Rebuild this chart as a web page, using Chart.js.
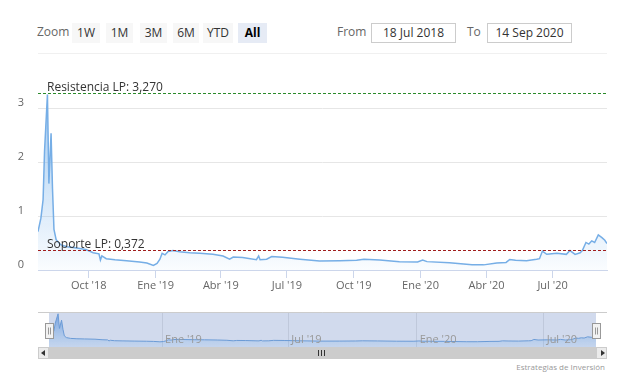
<!DOCTYPE html>
<html>
<head>
<meta charset="utf-8">
<script src="https://cdn.jsdelivr.net/npm/chart.js@4"></script>
<style>
  body { margin: 0; background: #fff; font-family: "Open Sans", sans-serif; }
  #wrap { position: relative; width: 630px; height: 387px; overflow: hidden; }
  .abs { position: absolute; }
  .txt { font-size: 12px; color: #666; line-height: 20px; }
  .btn { top: 23px; height: 20px; line-height: 20px; background: #f7f7f7; color: #333;
         font-size: 12px; text-align: center; }
  .btn.on { background: #e6ebf5; color: #000; font-weight: bold; }
  .box { top: 23px; width: 85px; border: 1px solid #cccccc; box-sizing: border-box;
         height: 20px; line-height: 18px; font-size: 12px; color: #333; text-align: center; }
  canvas { position: absolute; left: 0; }
</style>
</head>
<body>
<div id="wrap">
  <div class="abs txt" style="left:37px;top:22px;">Zoom</div>
  <div class="abs btn" style="left:72px;width:28px;">1W</div>
  <div class="abs btn" style="left:106px;width:27px;">1M</div>
  <div class="abs btn" style="left:140px;width:27px;">3M</div>
  <div class="abs btn" style="left:173px;width:26px;">6M</div>
  <div class="abs btn" style="left:203px;width:30px;">YTD</div>
  <div class="abs btn on" style="left:238px;width:29px;">All</div>
  <div class="abs txt" style="left:337px;top:22px;">From</div>
  <div class="abs box" style="left:371px;">18 Jul 2018</div>
  <div class="abs txt" style="left:467px;top:22px;">To</div>
  <div class="abs box" style="left:487px;">14 Sep 2020</div>
  <div class="abs" style="left:38px;top:53px;width:569px;height:1px;background:#f0f0f0;"></div>

  <canvas id="main" width="630" height="235" style="top:60px;"></canvas>
  <canvas id="nav" width="630" height="42" style="top:305px;"></canvas>

  <!-- scrollbar -->
  <div class="abs" style="left:38px;top:347px;width:11px;height:12px;background:#ebebeb;border:1px solid #cccccc;box-sizing:border-box;"></div>
  <div class="abs" style="left:41px;top:350px;width:0;height:0;border-top:3px solid transparent;border-bottom:3px solid transparent;border-right:4px solid #333;"></div>
  <div class="abs" style="left:49px;top:347px;width:547px;height:12px;background:#cccccc;"></div>
  <div class="abs" style="left:318px;top:350px;width:1px;height:6px;background:#333;"></div>
  <div class="abs" style="left:321px;top:350px;width:1px;height:6px;background:#333;"></div>
  <div class="abs" style="left:324px;top:350px;width:1px;height:6px;background:#333;"></div>
  <div class="abs" style="left:596px;top:347px;width:11px;height:12px;background:#ebebeb;border:1px solid #cccccc;box-sizing:border-box;"></div>
  <div class="abs" style="left:601px;top:350px;width:0;height:0;border-top:3px solid transparent;border-bottom:3px solid transparent;border-left:4px solid #333;"></div>

  <div class="abs" style="right:25px;top:361px;font-size:8px;color:#999;">Estrategias de Inversión</div>
</div>

<script>
// ---- data ----
const dates = [
  "2018-07-23","2018-07-27","2018-07-30","2018-08-01","2018-08-05","2018-08-07","2018-08-10",
  "2018-08-12","2018-08-14","2018-08-17","2018-08-23","2018-09-01","2018-09-12","2018-09-27",
  "2018-10-07","2018-10-15","2018-10-17","2018-10-19","2018-10-25","2018-11-06","2018-11-22",
  "2018-12-10","2018-12-20","2018-12-29","2019-01-03","2019-01-07","2019-01-10","2019-01-14",
  "2019-01-18","2019-01-25","2019-02-03","2019-02-17","2019-03-03","2019-03-21","2019-04-04",
  "2019-04-13","2019-04-18","2019-05-01","2019-05-20","2019-05-23","2019-05-25","2019-06-03",
  "2019-06-10","2019-06-25","2019-07-19","2019-08-15","2019-09-12","2019-10-05","2019-10-15",
  "2019-11-06","2019-12-03","2019-12-28","2020-01-04","2020-01-10","2020-02-10","2020-03-12",
  "2020-03-28","2020-04-15","2020-04-28","2020-05-03","2020-05-11","2020-05-26","2020-06-09",
  "2020-06-13","2020-06-17","2020-06-23","2020-07-07","2020-07-20","2020-07-25","2020-08-01",
  "2020-08-08","2020-08-11","2020-08-16","2020-08-20","2020-08-24","2020-08-28","2020-09-02",
  "2020-09-07","2020-09-11","2020-09-14"
];
const values = [
  0.71, 0.96, 1.30, 2.20, 3.25, 1.60, 2.53,
  1.50, 0.75, 0.56, 0.47, 0.43, 0.41, 0.38,
  0.32, 0.30, 0.185, 0.26, 0.21, 0.19, 0.17,
  0.15, 0.13, 0.085, 0.12, 0.20, 0.31, 0.28,
  0.34, 0.36, 0.34, 0.32, 0.31, 0.29, 0.26,
  0.20, 0.24, 0.23, 0.19, 0.26, 0.19, 0.20,
  0.25, 0.235, 0.20, 0.165, 0.17, 0.18, 0.20,
  0.185, 0.155, 0.15, 0.185, 0.155, 0.135, 0.095,
  0.095, 0.13, 0.14, 0.195, 0.18, 0.17, 0.20,
  0.21, 0.35, 0.29, 0.31, 0.29, 0.36, 0.29,
  0.32, 0.36, 0.51, 0.48, 0.54, 0.51, 0.65,
  0.60, 0.55, 0.49
];
const yTicks = [0, 1, 2, 3];
const xTickDates = ["2018-10-01","2019-01-01","2019-04-01","2019-07-01","2019-10-01","2020-01-01","2020-04-01","2020-07-01"];
const xTickLabels = ["Oct '18","Ene '19","Abr '19","Jul '19","Oct '19","Ene '20","Abr '20","Jul '20"];
const navTickDates = ["2019-01-01","2019-07-01","2020-01-01","2020-07-01"];
const navTickLabels = ["Ene '19","Jul '19","Ene '20","Jul '20"];
const plotLineValues = [3.27, 0.372];
const plotLineLabels = ["Resistencia LP: 3,270", "Soporte LP: 0,372"];
const plotLineColors = ["#2a8a2a", "#a01c1c"];

const FONT = "'Open Sans', sans-serif";
const BASE = Date.UTC(2018, 6, 18);
const dayOf = s => (Date.parse(s) - BASE) / 86400000;

const points = dates.map((d, i) => ({ x: dayOf(d), y: values[i] }));
const xMin = dayOf(dates[0]);
const xMax = dayOf(dates[dates.length - 1]);

function areaGradient(top, bottom) {
  return (context) => {
    const { ctx, chartArea } = context.chart;
    if (!chartArea) return null;
    const g = ctx.createLinearGradient(0, chartArea.top, 0, chartArea.bottom);
    g.addColorStop(0, top);
    g.addColorStop(1, bottom);
    return g;
  };
}

// dashed support / resistance lines
const plotLinesPlugin = {
  id: "plotLines",
  afterDatasetsDraw(chart) {
    const { ctx, chartArea: a, scales: { y } } = chart;
    plotLineValues.forEach((v, i) => {
      const py = Math.round(y.getPixelForValue(v)) + 0.5;
      ctx.save();
      ctx.strokeStyle = plotLineColors[i];
      ctx.lineWidth = 1;
      ctx.setLineDash([3, 2]);
      ctx.beginPath();
      ctx.moveTo(a.left, py);
      ctx.lineTo(a.right, py);
      ctx.stroke();
      ctx.setLineDash([]);
      ctx.fillStyle = "#333";
      ctx.font = "12px " + FONT;
      ctx.textBaseline = "alphabetic";
      ctx.fillText(plotLineLabels[i], a.left + 9, py - 3);
      ctx.restore();
    });
  }
};

new Chart(document.getElementById("main").getContext("2d"), {
  type: "line",
  data: {
    datasets: [{
      data: points,
      borderColor: "#76aee6",
      borderWidth: 1.5,
      pointRadius: 0,
      tension: 0,
      fill: "origin",
      backgroundColor: areaGradient("rgba(124,181,236,0.75)", "rgba(124,181,236,0.04)")
    }]
  },
  options: {
    responsive: false,
    animation: false,
    events: [],
    layout: { padding: { top: 21, left: 0, right: 23, bottom: 0 } },
    plugins: { legend: { display: false }, tooltip: { enabled: false } },
    scales: {
      x: {
        type: "linear",
        min: xMin,
        max: xMax,
        afterBuildTicks: s => { s.ticks = xTickDates.map(d => ({ value: dayOf(d) })); },
        afterFit: s => { s.height = 25; },
        ticks: {
          autoSkip: false, maxRotation: 0, padding: 1,
          color: "#666", font: { family: FONT, size: 11 },
          callback: (v, i) => xTickLabels[i]
        },
        grid: { drawOnChartArea: false, tickLength: 8, color: "#ccd6eb" },
        border: { color: "#ccd6eb" }
      },
      y: {
        min: 0,
        max: 3.5,
        afterBuildTicks: s => { s.ticks = yTicks.map(v => ({ value: v })); },
        afterFit: s => { s.width = 38; },
        ticks: { color: "#666", padding: 14, labelOffset: -5, font: { family: FONT, size: 11 } },
        grid: { color: "#e6e6e6", drawTicks: false },
        border: { display: false }
      }
    }
  },
  plugins: [plotLinesPlugin]
});

// navigator: mask, handles, labels
const navPlugin = {
  id: "navDecor",
  beforeDatasetsDraw(chart) {
    const { ctx, chartArea: a } = chart;
    ctx.save();
    ctx.fillStyle = "rgba(102,133,194,0.3)";
    ctx.fillRect(a.left, a.top, a.right - a.left, a.bottom - a.top);
    ctx.restore();
  },
  afterDraw(chart) {
    const { ctx, chartArea: a, scales: { x } } = chart;
    ctx.save();
    ctx.fillStyle = "#999";
    ctx.font = "11px " + FONT;
    ctx.textBaseline = "alphabetic";
    navTickDates.forEach((d, i) => {
      ctx.fillText(navTickLabels[i], x.getPixelForValue(dayOf(d)) + 3, a.bottom - 4);
    });
    ctx.strokeStyle = "#cccccc";
    ctx.lineWidth = 1;
    ctx.beginPath();
    ctx.moveTo(38, a.top + 0.5);
    ctx.lineTo(607, a.top + 0.5);
    ctx.stroke();
    const cy = (a.top + a.bottom) / 2;
    [a.left, a.right].forEach(hx => {
      const l = Math.round(hx - 4) + 0.5, t = Math.round(cy - 7) + 0.5;
      ctx.fillStyle = "#f2f2f2";
      ctx.strokeStyle = "#999";
      ctx.fillRect(l, t, 8, 15);
      ctx.strokeRect(l, t, 8, 15);
      ctx.beginPath();
      ctx.moveTo(l + 3, t + 4); ctx.lineTo(l + 3, t + 11);
      ctx.moveTo(l + 5, t + 4); ctx.lineTo(l + 5, t + 11);
      ctx.stroke();
    });
    ctx.restore();
  }
};

new Chart(document.getElementById("nav").getContext("2d"), {
  type: "line",
  data: {
    datasets: [{
      data: points,
      borderColor: "#6b9bd6",
      borderWidth: 1,
      pointRadius: 0,
      tension: 0,
      fill: "start",
      backgroundColor: areaGradient("rgba(90,140,215,0.8)", "rgba(124,181,236,0.15)")
    }]
  },
  options: {
    responsive: false,
    animation: false,
    events: [],
    layout: { padding: { top: 7, left: 49, right: 34, bottom: 0 } },
    plugins: { legend: { display: false }, tooltip: { enabled: false } },
    scales: {
      x: {
        type: "linear",
        min: xMin,
        max: xMax,
        afterBuildTicks: s => { s.ticks = navTickDates.map(d => ({ value: dayOf(d) })); },
        afterFit: s => { s.height = 0; },
        ticks: { display: false },
        grid: { color: "#e6e6e6", drawTicks: false },
        border: { display: false }
      },
      y: { display: false, min: -0.5, max: 3.45 }
    }
  },
  plugins: [navPlugin]
});
</script>
</body>
</html>
